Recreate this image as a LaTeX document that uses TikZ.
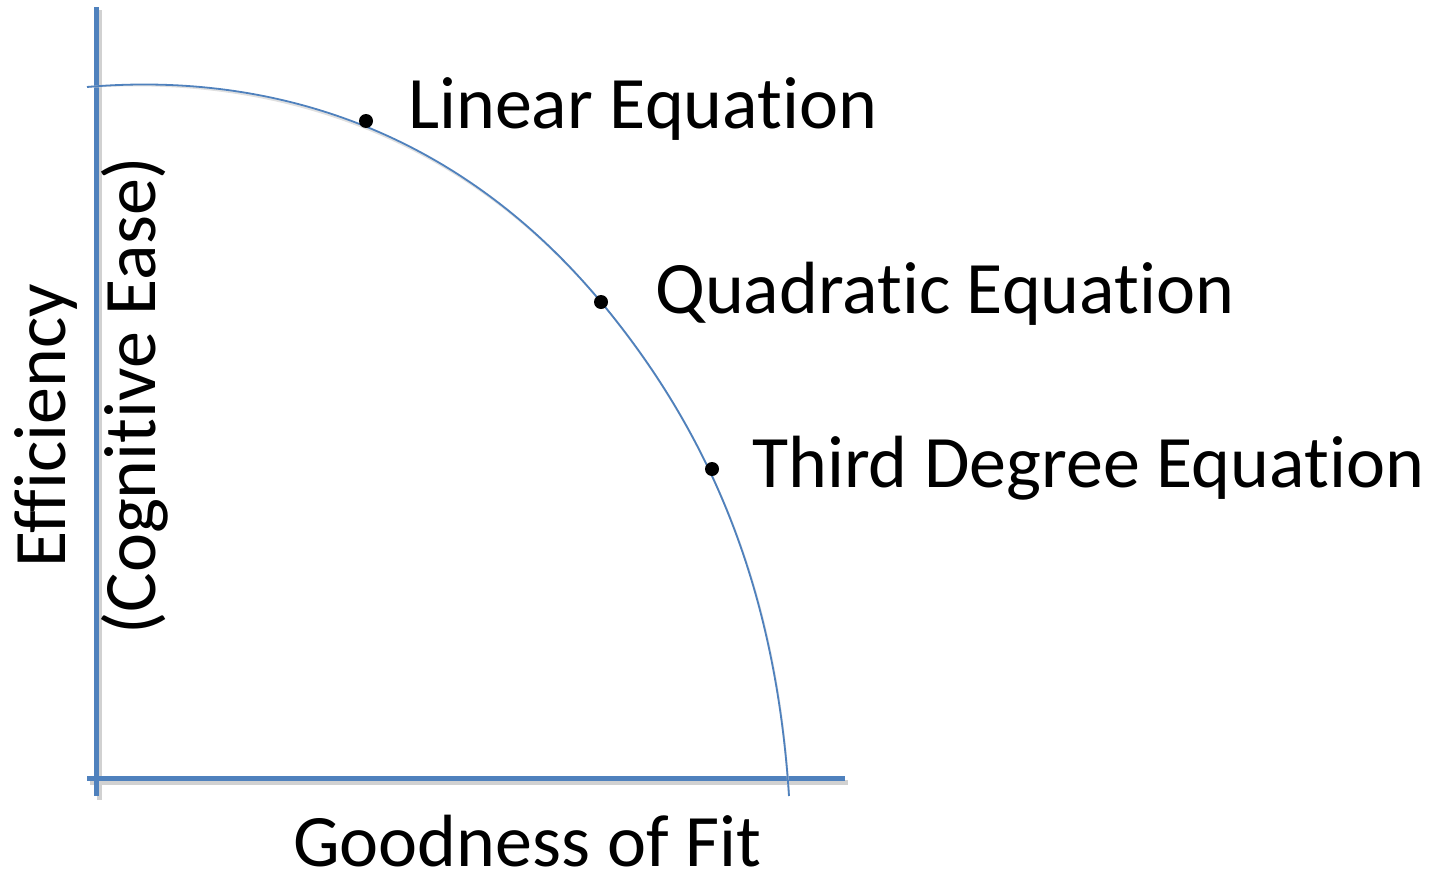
\documentclass[tikz,border=0pt]{standalone}
\usepackage{fontspec}
\setmainfont[Ligatures=NoCommon]{Carlito}
\definecolor{axisblue}{RGB}{79,129,189}
\begin{document}
\begin{tikzpicture}[x=1pt,y=-1pt,
  axis/.style={line width=5pt,draw=axisblue},
  shadowline/.style={line width=5pt,draw=black!18},
  curve/.style={line width=1.8pt,draw=axisblue},
  dotmark/.style={circle,fill=black,inner sep=0pt,minimum size=14pt},
  lbl/.style={inner sep=0pt,anchor=base west,font=\fontsize{74}{88}\selectfont}]
\useasboundingbox (0,0) rectangle (1430,881);
% shadows
\draw[shadowline] (99,10) -- (99,800);
\draw[shadowline] (90,782) -- (848,782);
% axes
\coordinate (ytop) at (96,7);
\coordinate (ybot) at (96,796);
\coordinate (xleft) at (87,778);
\coordinate (xright) at (845,778);
\draw[axis] (ytop) -- (ybot);
\draw[axis] (xleft) -- (xright);
% curve
\coordinate (cs) at (87,87);
\coordinate (cm) at (601,302);
\coordinate (ce) at (789,796);
\draw[draw=black!12,line width=2pt,shift={(1.5,3)}] (cs) .. controls (260,72) and (451,122) .. (cm) .. controls (705,427) and (775,580) .. (ce);
\draw[curve] (cs) .. controls (260,72) and (451,122) .. (cm) .. controls (705,427) and (775,580) .. (ce);
% dots
\node[dotmark] (d1) at (366,121) {};
\node[dotmark] (d2) at (601,302) {};
\node[dotmark] (d3) at (712,469) {};
% labels
\node[lbl] (l1) at (408,128) {Linear Equation};
\node[lbl] (l2) at (655,313) {Quadratic Equation};
\node[lbl] (l3) at (752,487) {Third Degree Equation};
\node[lbl,text depth=0pt] (gx) at (293,866) {Goodness of Fit};
\node[lbl,rotate=90] (ey) at (65,568) {Efficiency};
\node[lbl,rotate=90] (cy) at (155,635) {(Cognitive Ease)};
\end{tikzpicture}
\end{document}
